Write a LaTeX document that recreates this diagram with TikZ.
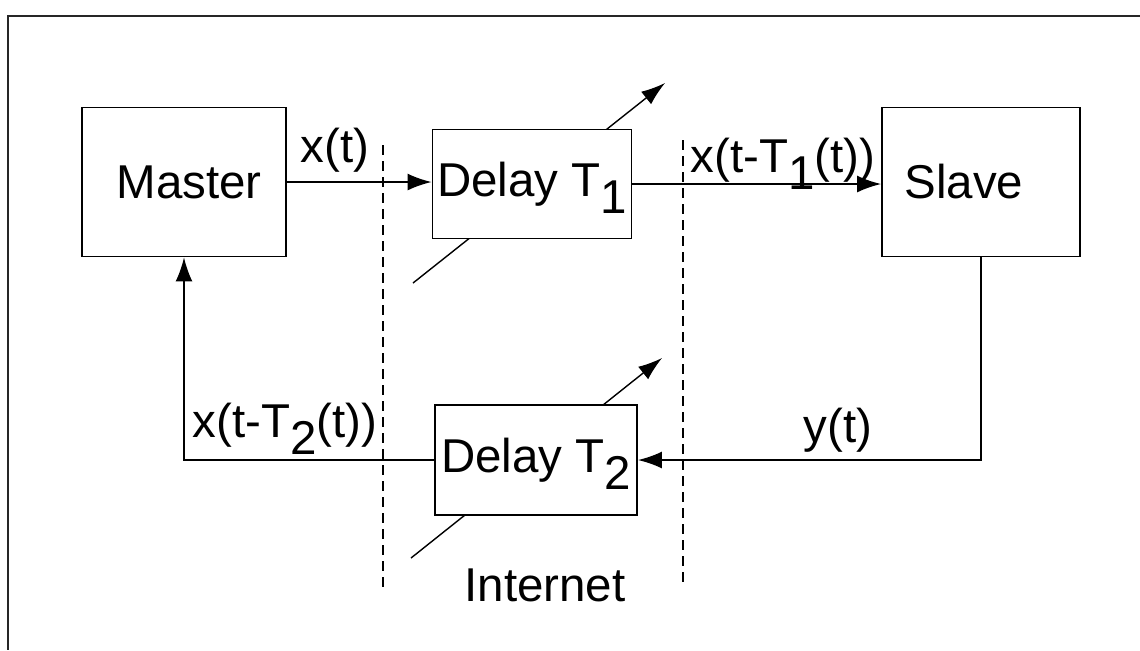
\documentclass[tikz,border=0pt]{standalone}
\usepackage{fontspec}
\setmainfont{Liberation Sans}
\usetikzlibrary{arrows.meta, backgrounds}

\newcommand{\lowsub}[1]{\raisebox{-5pt}[0pt][0pt]{#1}}

\tikzset{
  block/.style={draw, fill=white, line width=0.5pt, inner sep=0pt},
  sig/.style={line width=0.5pt, -{Latex[length=2.4mm,width=1.7mm]}},
  tuner/.style={line width=0.4pt, -{Latex[length=2.4mm,width=1.6mm]}},
  cut/.style={line width=0.4pt, dash pattern=on 1mm off 0.6mm},
  lbl/.style={inner sep=0pt}
}

\begin{document}
\begin{tikzpicture}[x=0.01cm, y=-0.01cm, font=\fontsize{13.5}{16}\selectfont]
  \useasboundingbox (0,0) rectangle (1140,650);
  % frame
  \draw[line width=0.5pt, black!85] (1140,16) -- (8,16) -- (8,650);

  % blocks
  \node[block, minimum width=2.04cm, minimum height=1.49cm] (master) at (184,182) {\kern0.1cm Master};
  \node[block, minimum width=1.99cm, minimum height=1.09cm] (delayA) at (532,184) {Delay T\lowsub{1}};
  \node[block, minimum width=1.98cm, minimum height=1.49cm] (slave) at (981,182) {Slave\kern0.34cm};
  \node[block, minimum width=2.02cm, minimum height=1.10cm] (delayB) at (536,460) {Delay T\lowsub{2}};

  % variable delay arrows
  \coordinate (tA0) at (413,283);
  \coordinate (tA1) at (665,83);
  \coordinate (tB0) at (411,558);
  \coordinate (tB1) at (662,358);
  \begin{scope}[on background layer]
    \draw[tuner] (tA0) -- (tA1);
    \draw[tuner] (tB0) -- (tB1);
  \end{scope}

  % internet borders
  \draw[cut] (383,145) -- (383,590);
  \draw[cut] (683,140) -- (683,585);

  % signals
  \draw[sig] (master.east) -- (master.east -| delayA.west);
  \draw[sig] (delayA.east) -- (delayA.east -| slave.west);
  \draw[sig] (slave.south) |- (delayB.east);
  \draw[sig] (delayB.west) -| (master.south);

  % labels
  \node[lbl] (xt) at (335,150) {x(t)};
  \node[lbl] (xdA) at (783,160) {x(t-T\lowsub{1}(t))};
  \node[lbl] (yt) at (838,430) {y(t)};
  \node[lbl] (xdB) at (285,425) {x(t-T\lowsub{2}(t))};
  \node[lbl] (net) at (545,585) {Internet};
\end{tikzpicture}
\end{document}
